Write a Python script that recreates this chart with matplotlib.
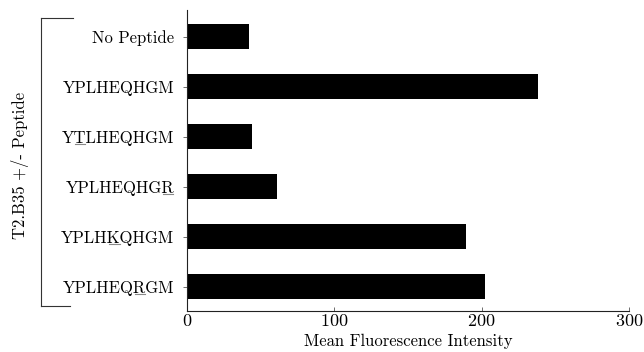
import matplotlib
matplotlib.use("Agg")
import matplotlib.pyplot as plt
from matplotlib.lines import Line2D

plt.rcParams["font.family"] = ["cmr10", "DejaVu Serif"]
plt.rcParams["mathtext.fontset"] = "cm"
plt.rcParams["axes.formatter.use_mathtext"] = True

peptides = ["No Peptide", "YPLHEQHGM", "YTLHEQHGM", "YPLHEQHGR", "YPLHKQHGM", "YPLHEQRGM"]
# index of the substituted residue (underlined), None = no underline
mutated = [None, None, 1, 8, 4, 6]
mfi = [42, 238.5, 44, 61.5, 189.5, 202]

fig = plt.figure(figsize=(6.44, 3.52), dpi=100)
ax = fig.add_axes([0.2899, 0.1173, 0.6868, 0.8543])

pos = list(range(len(peptides)))[::-1]
ax.barh(pos, mfi, height=0.5, color="black")
ax.set_xlim(0, 300)
ax.set_ylim(-0.48, len(peptides) - 1 + 0.53)
ax.set_xticks([0, 100, 200, 300])
ax.set_yticks(pos)
ax.set_yticklabels(peptides)

for s in ["top", "right"]:
    ax.spines[s].set_visible(False)
for s in ["left", "bottom"]:
    ax.spines[s].set_linewidth(0.8)
    ax.spines[s].set_color("#222222")

ax.tick_params(axis="y", length=3, width=0.6, color="#555555", pad=6, labelsize=12)
ax.tick_params(axis="x", direction="in", length=3, width=0.6, color="#555555", pad=2, labelsize=13)
ax.set_xlabel("Mean Fluorescence Intensity", fontsize=12, labelpad=3)

fig.text(0.031, 0.531, "T2.B35 +/- Peptide", rotation=90, ha="center", va="center", fontsize=12)

# bracket grouping the rows
bx, btop, bbot = 0.0632, 0.948, 0.1315
for seg in [([bx, bx], [btop, bbot]), ([bx, 0.1134], [btop, btop]), ([bx, 0.1087], [bbot, bbot])]:
    fig.add_artist(Line2D(seg[0], seg[1], transform=fig.transFigure, color="#333333", lw=0.8))

# underline the substituted residue in each label
fig.canvas.draw()
renderer = fig.canvas.get_renderer()
for lab, idx in zip(ax.get_yticklabels(), mutated):
    if idx is None:
        continue
    text = lab.get_text()
    prop = lab.get_fontproperties()
    bb = lab.get_window_extent(renderer)
    w_all, h_all, d_all = renderer.get_text_width_height_descent(text, prop, ismath=False)
    w_upto = renderer.get_text_width_height_descent(text[:idx + 1], prop, ismath=False)[0]
    w_chr = renderer.get_text_width_height_descent(text[idx], prop, ismath=False)[0]
    x0 = bb.x1 - w_all
    base = bb.y0 + d_all - 1.5
    fx1 = (x0 + w_upto - 1) / fig.bbox.width
    fx0 = (x0 + w_upto - w_chr + 1) / fig.bbox.width
    fy = base / fig.bbox.height
    fig.add_artist(Line2D([fx0, fx1], [fy, fy], transform=fig.transFigure, color="#888888", lw=0.8))

fig.savefig("out.png", dpi=100)
